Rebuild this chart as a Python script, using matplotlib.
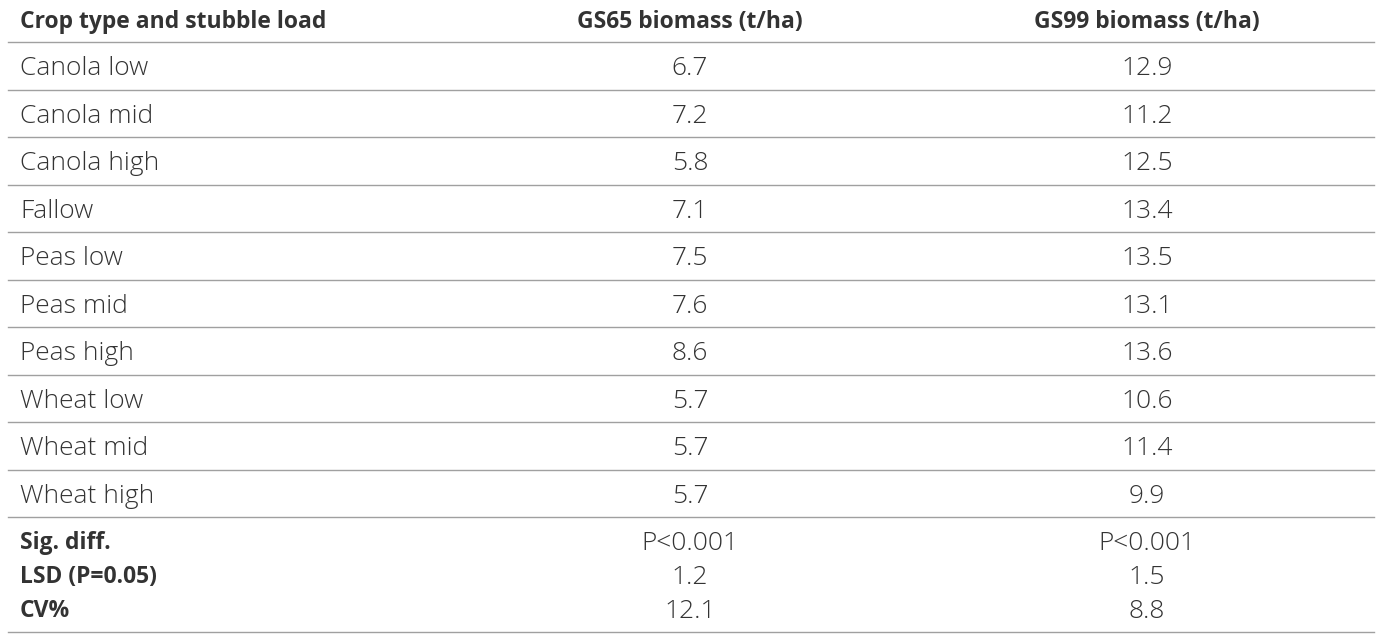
import matplotlib
matplotlib.use("Agg")
import matplotlib.pyplot as plt

headers = ["Crop type and stubble load", "GS65 biomass (t/ha)", "GS99 biomass (t/ha)"]
crops = ["Canola low", "Canola mid", "Canola high", "Fallow", "Peas low", "Peas mid",
         "Peas high", "Wheat low", "Wheat mid", "Wheat high"]
gs65 = ["6.7", "7.2", "5.8", "7.1", "7.5", "7.6", "8.6", "5.7", "5.7", "5.7"]
gs99 = ["12.9", "11.2", "12.5", "13.4", "13.5", "13.1", "13.6", "10.6", "11.4", "9.9"]
stat_labels = ["Sig. diff.", "LSD (P=0.05)", "CV%"]
stat_gs65 = ["P<0.001", "1.2", "12.1"]
stat_gs99 = ["P<0.001", "1.5", "8.8"]

W, H = 1384, 641
fig = plt.figure(figsize=(W/100, H/100), dpi=100)
ax = fig.add_axes([0, 0, 1, 1])
ax.set_xlim(0, W); ax.set_ylim(H, 0); ax.axis("off")

txt = "#333333"
line = "#a0a0a0"
fam = ["Open Sans", "DejaVu Sans"]
x0, x1, x2, xl, xr = 20, 690, 1147, 8, 1374
hs, ds = 16.5, 19

ax.text(x0, 22, headers[0], fontsize=hs, fontweight="bold", color=txt, va="center", ha="left", family=fam)
ax.text(x1, 22, headers[1], fontsize=hs, fontweight="bold", color=txt, va="center", ha="center", family=fam)
ax.text(x2, 22, headers[2], fontsize=hs, fontweight="bold", color=txt, va="center", ha="center", family=fam)
ax.plot([xl, xr], [42, 42], color=line, lw=1)

top, step = 42, 47.5
for i, (c, a, b) in enumerate(zip(crops, gs65, gs99)):
    yc = top + step*(i+0.5) + 3
    for x, s, ha in [(x0, c, "left"), (x1, a, "center"), (x2, b, "center")]:
        ax.text(x, yc, s, fontsize=ds, fontweight="light", color=txt, va="center", ha=ha, family=fam)
    ax.plot([xl, xr], [top + step*(i+1)]*2, color=line, lw=1)

for j, (l, a, b) in enumerate(zip(stat_labels, stat_gs65, stat_gs99)):
    yc = 543 + 34*j
    ax.text(x0, yc, l, fontsize=hs, fontweight="bold", color=txt, va="center", ha="left", family=fam)
    ax.text(x1, yc, a, fontsize=ds, fontweight="light", color=txt, va="center", ha="center", family=fam)
    ax.text(x2, yc, b, fontsize=ds, fontweight="light", color=txt, va="center", ha="center", family=fam)
ax.plot([xl, xr], [632, 632], color=line, lw=1)

fig.savefig("out.png", dpi=100)
